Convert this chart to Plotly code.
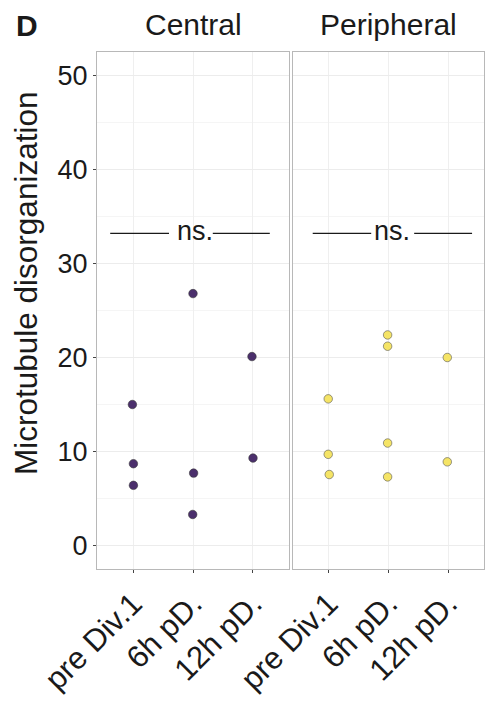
import plotly.graph_objects as go

# ---- data ----
categories = ["pre Div.1", "6h pD.", "12h pD."]
central_cat = [1, 1, 1, 2, 2, 2, 3, 3]
central_jit = [-0.01, 0.007, 0.007, 0.0, 0.01, -0.005, -0.017, 0.0]
central_val = [15.0, 8.7, 6.4, 26.8, 7.7, 3.3, 20.1, 9.3]

periph_cat = [1, 1, 1, 2, 2, 2, 2, 3, 3]
periph_jit = [-0.01, -0.01, 0.007, -0.015, -0.015, -0.015, -0.015, -0.015, -0.015]
periph_val = [15.6, 9.7, 7.55, 22.4, 21.2, 10.9, 7.3, 20.0, 8.9]

panel_titles = ["Central", "Peripheral"]
y_ticks = [0, 10, 20, 30, 40, 50]
sig_label = "ns."
sig_y = 33.2

FONT = "Liberation Sans, Arial, Helvetica, sans-serif"
TXT = "#1a1a1a"

fig = go.Figure()
fig.add_trace(go.Scatter(
    x=[c + j for c, j in zip(central_cat, central_jit)], y=central_val,
    mode="markers", xaxis="x", yaxis="y",
    marker=dict(size=8.5, color="#4b2f6c", line=dict(color="#3a3a3a", width=0.6)),
    showlegend=False))
fig.add_trace(go.Scatter(
    x=[c + j for c, j in zip(periph_cat, periph_jit)], y=periph_val,
    mode="markers", xaxis="x2", yaxis="y2",
    marker=dict(size=8.5, color="#f5e466", line=dict(color="#555555", width=0.6)),
    showlegend=False))

xcommon = dict(
    range=[0.4, 3.6], tickmode="array", tickvals=[1, 2, 3], ticktext=categories,
    tickangle=-45, tickfont=dict(family=FONT, size=31, color=TXT),
    showgrid=True, gridcolor="#efefef", gridwidth=1, zeroline=False,
    showline=True, linecolor="#b8b8b8", linewidth=1.2, mirror=True,
    ticks="outside", ticklen=3, tickcolor="#444444", tickwidth=1,
)
ycommon = dict(
    range=[-2.5, 52.5], tickmode="array", tickvals=y_ticks,
    showgrid=True, gridcolor="#ececec", gridwidth=1, zeroline=False,
    minor=dict(dtick=5, tick0=0, showgrid=True, gridcolor="#f5f5f5", gridwidth=1),
    showline=True, linecolor="#b8b8b8", linewidth=1.2, mirror=True,
    tickfont=dict(family=FONT, size=27, color=TXT),
)

fig.update_layout(
    width=486, height=711,
    margin=dict(l=97, r=2, t=52, b=142),
    paper_bgcolor="white", plot_bgcolor="white",
    font=dict(family=FONT, color=TXT),
    xaxis=dict(domain=[0, 0.4961], **xcommon),
    xaxis2=dict(domain=[0.5065, 1.0], anchor="y2", **xcommon),
    yaxis=dict(domain=[0, 1], anchor="x", ticks="outside", ticklen=3,
               tickcolor="#444444", tickwidth=1, **ycommon),
    yaxis2=dict(domain=[0, 1], anchor="x2", matches="y", showticklabels=False,
                ticks="", **ycommon),
)

annotations = []
for i, t in enumerate(panel_titles):
    annotations.append(dict(
        text=t, xref="x" if i == 0 else "x2", yref="paper", x=2, y=1.053,
        showarrow=False, font=dict(family=FONT, size=30, color=TXT),
        xanchor="center", yanchor="middle"))
annotations.append(dict(
    text="Microtubule disorganization", xref="paper", yref="paper",
    x=-97 / 387 + 26 / 387, y=(569 - 284) / 517, textangle=-90,
    showarrow=False, font=dict(family=FONT, size=31.5, color=TXT),
    xanchor="center", yanchor="middle"))
annotations.append(dict(
    text="<b>D</b>", xref="paper", yref="paper",
    x=-97 / 387 + 14 / 387, y=1 + (52 - 26) / 517,
    showarrow=False, font=dict(family=FONT, size=30, color=TXT),
    xanchor="left", yanchor="middle"))

# significance brackets
sig = [("x", "y", 0.62, 1.6, 2.33, 3.28, 2.04),
       ("x2", "y2", 0.73, 1.71, 2.43, 3.4, 2.06)]
shapes = []
for xr, yr, a0, a1, b0, b1, tx in sig:
    for s0, s1 in ((a0, a1), (b0, b1)):
        shapes.append(dict(type="line", xref=xr, yref=yr, x0=s0, x1=s1,
                           y0=sig_y, y1=sig_y, line=dict(color=TXT, width=1.3)))
    annotations.append(dict(text=sig_label, xref=xr, yref=yr, x=tx, y=sig_y,
                            showarrow=False, yshift=2,
                            font=dict(family=FONT, size=27, color=TXT),
                            xanchor="center", yanchor="middle"))

fig.update_layout(annotations=annotations, shapes=shapes)
fig.write_html("out.html")
